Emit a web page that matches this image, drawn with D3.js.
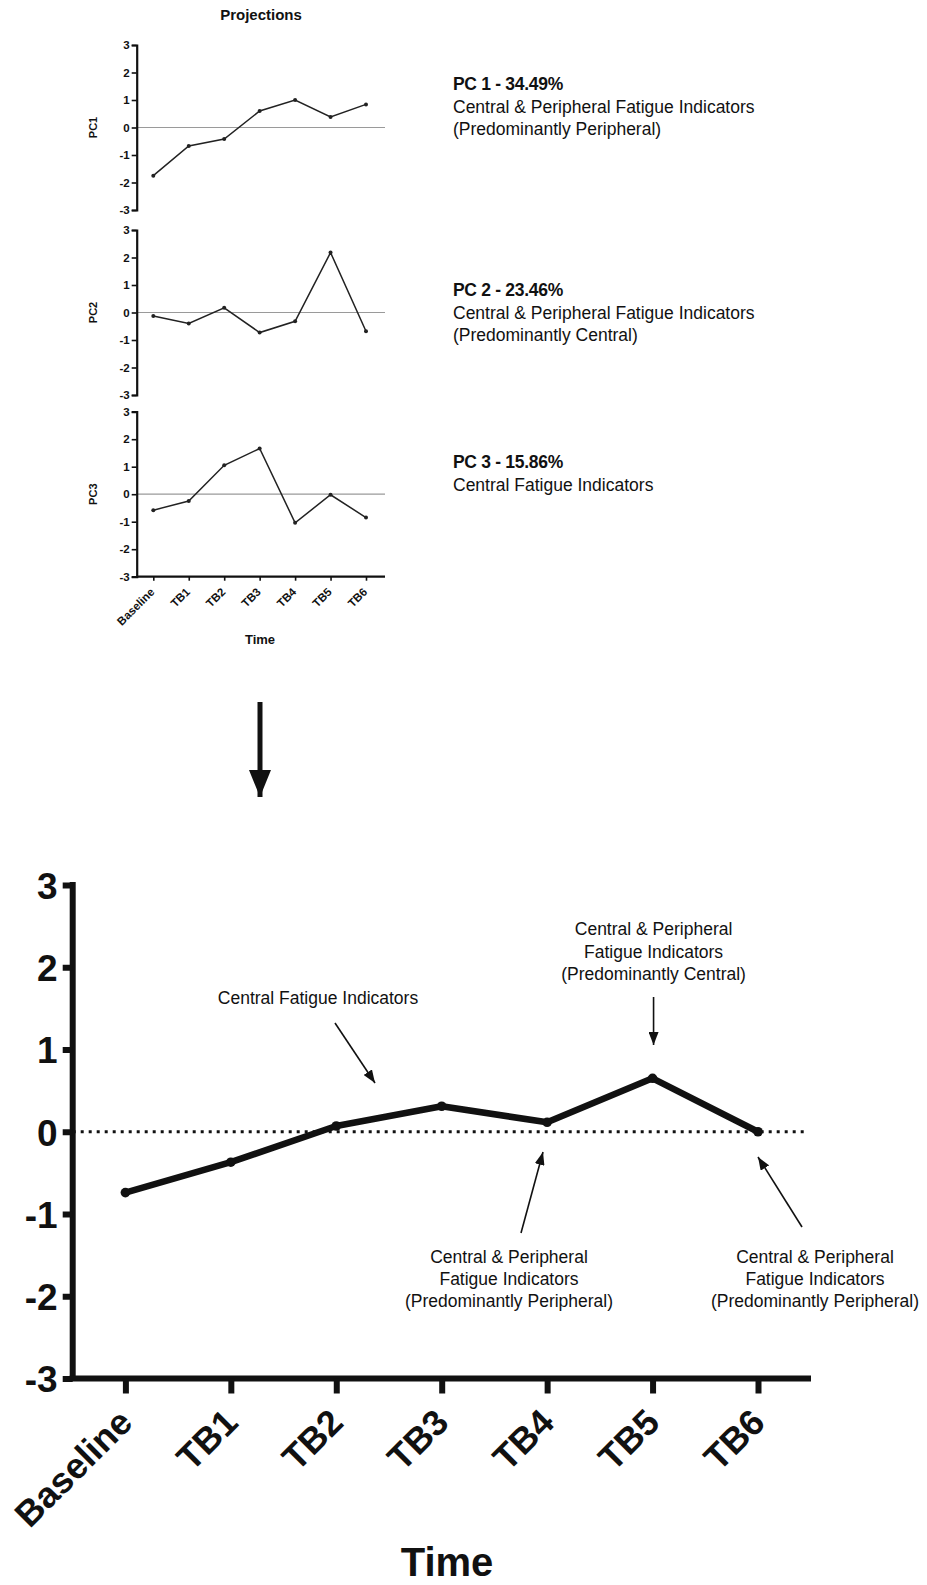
<!DOCTYPE html>
<html>
<head>
<meta charset="utf-8">
<script src="https://cdn.jsdelivr.net/npm/d3@7"></script>
<style>
  html, body { margin: 0; padding: 0; background: #fff; }
  svg { display: block; font-family: "Liberation Sans", Arial, sans-serif; }
</style>
</head>
<body>
<svg id="fig" width="927" height="1585"></svg>
<script>
// Time points and principal-component projections
const categories = ["Baseline", "TB1", "TB2", "TB3", "TB4", "TB5", "TB6"];
const pc1 = [-1.75, -0.67, -0.42, 0.60, 1.00, 0.38, 0.84];
const pc2 = [-0.13, -0.40, 0.17, -0.73, -0.32, 2.18, -0.68];
const pc3 = [-0.58, -0.25, 1.05, 1.66, -1.04, -0.02, -0.85];
// Combined fatigue score over time
const combined = [-0.74, -0.37, 0.07, 0.31, 0.115, 0.65, 0.0];
const yTicks = [-3, -2, -1, 0, 1, 2, 3];

const pcNames = ["PC1", "PC2", "PC3"];
const pcTitles = ["PC 1 - 34.49%", "PC 2 - 23.46%", "PC 3 - 15.86%"];
const pcDescriptions = [
  ["Central & Peripheral Fatigue Indicators", "(Predominantly Peripheral)"],
  ["Central & Peripheral Fatigue Indicators", "(Predominantly Central)"],
  ["Central Fatigue Indicators"]
];
const annotationLines = [
  ["Central Fatigue Indicators"],
  ["Central & Peripheral", "Fatigue Indicators", "(Predominantly Central)"],
  ["Central & Peripheral", "Fatigue Indicators", "(Predominantly Peripheral)"],
  ["Central & Peripheral", "Fatigue Indicators", "(Predominantly Peripheral)"]
];

const svg = d3.select("#fig");
const ink = "#111";
const plainInt = d => String(d);   // hyphen-minus, as on the plots

const defs = svg.append("defs");
function arrowMarker(id, w, h) {
  defs.append("marker")
    .attr("id", id)
    .attr("viewBox", `0 0 ${w} ${h}`)
    .attr("refX", w).attr("refY", h / 2)
    .attr("markerWidth", w).attr("markerHeight", h)
    .attr("markerUnits", "userSpaceOnUse")
    .attr("orient", "auto")
    .append("path")
    .attr("d", `M0,0 L${w},${h / 2} L0,${h} Z`)
    .attr("fill", ink);
}
arrowMarker("headSmall", 13, 10);
arrowMarker("headBig", 27, 22);

// ---------- Small projection panels ----------
const sx = d3.scalePoint().domain(categories).range([153.3, 366]);
const panelTops = [45, 230, 411.7];
const panelH = 165;
const series = [pc1, pc2, pc3];
const axisX = 136.7;
const titleBaselines = [90, 296, 468];   // text block positions, right of each panel

svg.append("text")
  .attr("x", 261).attr("y", 20)
  .attr("text-anchor", "middle")
  .attr("font-size", 15).attr("font-weight", "bold")
  .attr("fill", ink)
  .text("Projections");

series.forEach((vals, i) => {
  const top = panelTops[i];
  const y = d3.scaleLinear().domain([-3, 3]).range([top + panelH, top]);
  const g = svg.append("g");

  // zero reference
  g.append("line")
    .attr("x1", axisX).attr("x2", 385)
    .attr("y1", y(0)).attr("y2", y(0))
    .attr("stroke", "#9a9a9a").attr("stroke-width", 1.2);

  const ax = g.append("g")
    .attr("transform", `translate(${axisX},0)`)
    .call(d3.axisLeft(y).tickValues(yTicks).tickSize(5).tickPadding(2).tickFormat(plainInt));
  ax.select(".domain").attr("stroke", ink).attr("stroke-width", 2.2);
  ax.selectAll(".tick line").attr("stroke", ink).attr("stroke-width", 1.6);
  ax.selectAll(".tick text")
    .attr("font-family", "Liberation Sans, Arial, sans-serif")
    .attr("font-size", 11.5).attr("font-weight", "bold").attr("fill", ink);

  g.append("text")
    .attr("transform", `translate(97,${y(0)}) rotate(-90)`)
    .attr("text-anchor", "middle")
    .attr("font-size", 11).attr("font-weight", "bold").attr("fill", ink)
    .text(pcNames[i]);

  g.append("path")
    .datum(vals)
    .attr("fill", "none").attr("stroke", "#222").attr("stroke-width", 1.5)
    .attr("d", d3.line().x((d, k) => sx(categories[k])).y(d => y(d)));
  g.selectAll("circle.pt")
    .data(vals).join("circle")
    .attr("class", "pt")
    .attr("cx", (d, k) => sx(categories[k])).attr("cy", d => y(d))
    .attr("r", 2).attr("fill", "#222");

  // component description
  const tx = 453;
  const ty = titleBaselines[i];
  g.append("text")
    .attr("x", tx).attr("y", ty)
    .attr("font-size", 17.5).attr("font-weight", "bold").attr("fill", ink)
    .attr("letter-spacing", -0.3)
    .text(pcTitles[i]);
  pcDescriptions[i].forEach((line, k) => {
    g.append("text")
      .attr("x", tx).attr("y", ty + 22.5 * (k + 1))
      .attr("font-size", 17.5).attr("fill", ink)
      .text(line);
  });

  if (i === 2) {
    const xa = svg.append("g")
      .attr("transform", `translate(0,${top + panelH})`)
      .call(d3.axisBottom(sx).tickSize(4).tickFormat(""));
    xa.select(".domain").attr("stroke", ink).attr("stroke-width", 2.2)
      .attr("d", `M${axisX},0H385`);
    xa.selectAll(".tick line").attr("stroke", ink).attr("stroke-width", 1.6);

    svg.append("g").selectAll("text")
      .data(categories).join("text")
      .attr("transform", d => `translate(${sx(d) + 2},${top + panelH + 16}) rotate(-45)`)
      .attr("text-anchor", "end")
      .attr("font-size", 11.5).attr("font-weight", "bold").attr("fill", ink)
      .text(d => d);

    svg.append("text")
      .attr("x", 260).attr("y", 644)
      .attr("text-anchor", "middle")
      .attr("font-size", 13).attr("font-weight", "bold").attr("fill", ink)
      .text("Time");
  }
});

// ---------- Downward arrow between figures ----------
svg.append("line")
  .attr("x1", 260).attr("x2", 260)
  .attr("y1", 702).attr("y2", 797)
  .attr("stroke", ink).attr("stroke-width", 5)
  .attr("marker-end", "url(#headBig)");

// ---------- Combined chart ----------
const bx = d3.scalePoint().domain(categories).range([125.4, 758]);
const by = d3.scaleLinear().domain([-3, 3]).range([1378.5, 885]);
const bAxisX = 72.7;

// dotted zero line
svg.append("line")
  .attr("x1", bAxisX).attr("x2", 807)
  .attr("y1", by(0)).attr("y2", by(0))
  .attr("stroke", ink).attr("stroke-width", 3)
  .attr("stroke-dasharray", "3,5");

const bY = svg.append("g")
  .attr("transform", `translate(${bAxisX},0)`)
  .call(d3.axisLeft(by).tickValues(yTicks).tickSize(10).tickPadding(5).tickFormat(plainInt));
bY.select(".domain").attr("stroke", ink).attr("stroke-width", 6)
  .attr("d", `M0,${by(3) - 3}V${by(-3)}`);
bY.selectAll(".tick line").attr("stroke", ink).attr("stroke-width", 6);
bY.selectAll(".tick text")
  .attr("font-family", "Liberation Sans, Arial, sans-serif")
  .attr("font-size", 37).attr("font-weight", "bold").attr("fill", ink)
  .attr("dy", "0.36em");

const bX = svg.append("g")
  .attr("transform", `translate(0,${by(-3)})`)
  .call(d3.axisBottom(bx).tickSize(15).tickFormat(""));
bX.select(".domain").attr("stroke", ink).attr("stroke-width", 6)
  .attr("d", `M${bAxisX - 3},0H811`);
bX.selectAll(".tick line").attr("stroke", ink).attr("stroke-width", 6);

svg.append("g").selectAll("text")
  .data(categories).join("text")
  .attr("transform", d => `translate(${bx(d) + 9},${by(-3) + 46}) rotate(-45)`)
  .attr("text-anchor", "end")
  .attr("font-size", 36).attr("font-weight", "bold").attr("fill", ink)
  .text(d => d);

svg.append("text")
  .attr("x", 447).attr("y", 1576)
  .attr("text-anchor", "middle")
  .attr("font-size", 40).attr("font-weight", "bold").attr("fill", ink)
  .text("Time");

svg.append("path")
  .datum(combined)
  .attr("fill", "none").attr("stroke", ink).attr("stroke-width", 6.5)
  .attr("stroke-linejoin", "round")
  .attr("d", d3.line().x((d, k) => bx(categories[k])).y(d => by(d)));
svg.selectAll("circle.bpt")
  .data(combined).join("circle")
  .attr("class", "bpt")
  .attr("cx", (d, k) => bx(categories[k])).attr("cy", d => by(d))
  .attr("r", 4.8).attr("fill", ink);

// ---------- Annotations ----------
function note(lines, cx, baseY, lineH, size) {
  lines.forEach((t, k) => {
    svg.append("text")
      .attr("x", cx).attr("y", baseY + k * lineH)
      .attr("text-anchor", "middle")
      .attr("font-size", size).attr("fill", ink)
      .text(t);
  });
}
function pointer(x1, y1, x2, y2) {
  svg.append("line")
    .attr("x1", x1).attr("y1", y1).attr("x2", x2).attr("y2", y2)
    .attr("stroke", ink).attr("stroke-width", 1.6)
    .attr("marker-end", "url(#headSmall)");
}

note(annotationLines[0], 318, 1004, 22, 17.5);
pointer(335, 1023, 375, 1083);

const x5 = bx("TB5");
note(annotationLines[1], x5 + 1, 935, 22.5, 17.5);
pointer(x5 + 1, 997, x5 + 1, 1045);

note(annotationLines[2], 509, 1263, 22, 17.5);
pointer(521, 1233, 543, 1152);

note(annotationLines[3], 815, 1263, 22, 17.5);
pointer(802, 1227, 758, 1157);
</script>
</body>
</html>
